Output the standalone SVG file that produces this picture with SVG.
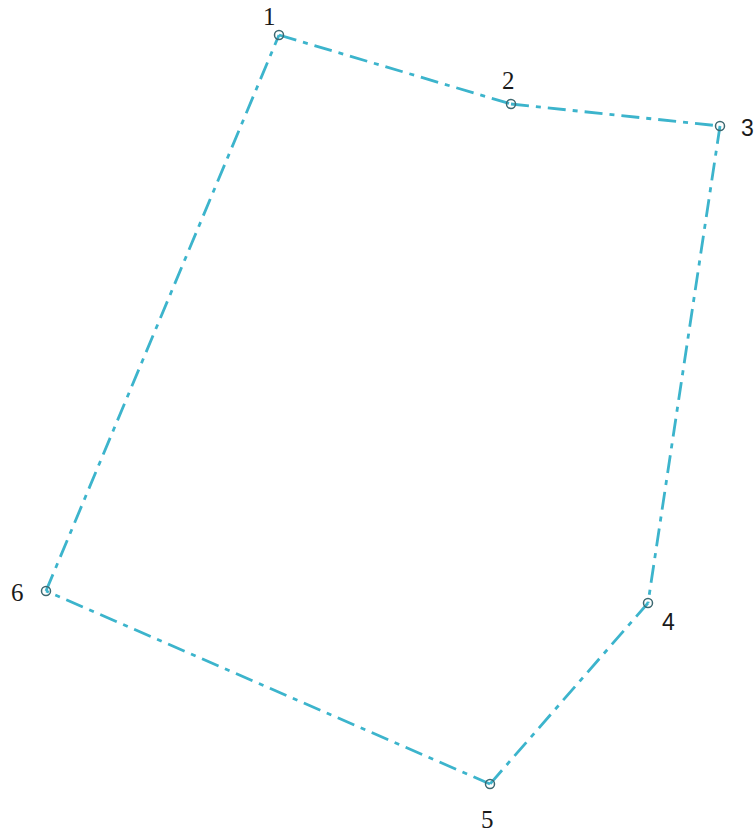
<svg xmlns="http://www.w3.org/2000/svg" width="754" height="832" viewBox="0 0 754 832">
<style>
.edge{fill:none;stroke:#3cb4cc;stroke-width:2.8;stroke-dasharray:18 7 5 7;stroke-linecap:butt}
.pt{fill:none;stroke:#3d6870;stroke-width:1.5}
.lbl{font-family:"Liberation Serif",serif;font-size:25px;fill:#1a1a1a}
.lbls{font-family:"Liberation Sans",sans-serif;font-size:23px;fill:#1a1a1a}
</style>
<rect width="754" height="832" fill="#fff"/>
<g id="connectors">
<line class="edge" x1="279" y1="35" x2="511" y2="104"/>
<line class="edge" x1="511" y1="104" x2="720" y2="126"/>
<line class="edge" x1="720" y1="126" x2="648" y2="603"/>
<line class="edge" x1="648" y1="603" x2="490" y2="784"/>
<line class="edge" x1="490" y1="784" x2="46" y2="591"/>
<line class="edge" x1="46" y1="591" x2="279" y2="35"/>
</g>
<g id="n1"><circle class="pt" cx="279" cy="35" r="4.5"/><text class="lbl" x="263" y="25">1</text></g>
<g id="n2"><circle class="pt" cx="511" cy="104" r="4.5"/><text class="lbl" x="502" y="89">2</text></g>
<g id="n3"><circle class="pt" cx="720" cy="126" r="4.5"/><text class="lbls" x="741" y="136">3</text></g>
<g id="n4"><circle class="pt" cx="648" cy="603" r="4.5"/><text class="lbls" x="662" y="630">4</text></g>
<g id="n5"><circle class="pt" cx="490" cy="784" r="4.5"/><text class="lbl" x="481" y="828">5</text></g>
<g id="n6"><circle class="pt" cx="46" cy="591" r="4.5"/><text class="lbl" x="11" y="601">6</text></g>
</svg>
